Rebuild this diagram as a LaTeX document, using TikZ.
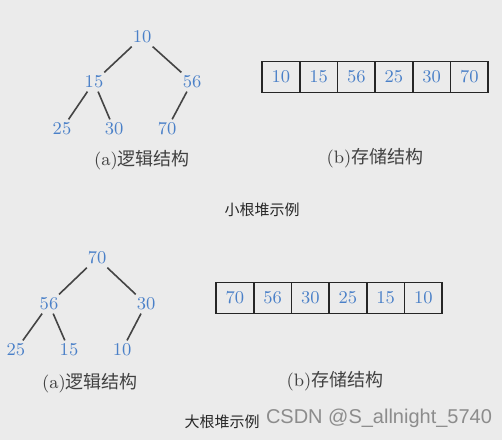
\documentclass[tikz,border=0pt]{standalone}
\usepackage{fontspec}
\newfontfamily\cjk{Noto Sans CJK SC}
\newfontfamily\wmfont{Liberation Sans}
\definecolor{numblue}{HTML}{4A80C8}
\definecolor{bggray}{HTML}{EBEBEB}
\definecolor{edgegray}{HTML}{444444}
\tikzset{
  num/.style={text=numblue,font=\fontsize{9}{9}\selectfont,inner sep=1.5pt},
  edge/.style={draw=edgegray,line width=0.8pt},
  cell/.style={draw=black!85,line width=0.8pt,minimum width=18.85pt,minimum height=15.5pt,inner sep=0pt,text=numblue,font=\fontsize{9}{9}\selectfont},
  capnode/.style={text=black!75,font=\fontsize{9}{10}\selectfont,inner sep=0pt},
  titlenode/.style={text=black!85,font=\fontsize{7.5}{8}\selectfont\cjk,inner sep=0pt}
}
\begin{document}
\begin{tikzpicture}[x=0.5pt,y=-0.5pt]
\def\cw{37.7};
\fill[bggray] (0,0) rectangle (502,440);
\useasboundingbox (0,0) rectangle (502,440);
%small root heap
\foreach\i/\v/\x/\y in {1/10/142/37,2/15/94/82,3/56/192/82,4/25/62/129,5/30/114/129,6/70/167/129} {
  \node[num] (s\i) at (\x,\y) {\v};
}
\foreach\a/\b in {1/2,1/3,2/4,2/5,3/6} {
  \draw[edge] (s\a) -- (s\b);
}
\foreach\v [count=\i from 0] in {10,15,56,25,30,70} {
  \node[cell] (sa\i) at (262+\cw*\i+0.5*\cw,77) {\v};
}
\node[capnode] (scapa) at (142,160) {(a)\cjk 逻辑结构};
\node[capnode] (scapb) at (375,158) {(b)\cjk 存储结构};
\node[titlenode] (stitle) at (262,210) {小根堆示例};
%big root heap
\foreach\i/\v/\x/\y in {1/70/97/258,2/56/49/304,3/30/146/304,4/25/16/350,5/15/69/350,6/10/122/350} {
  \node[num] (b\i) at (\x,\y) {\v};
}
\foreach\a/\b in {1/2,1/3,2/4,2/5,3/6} {
  \draw[edge] (b\a) -- (b\b);
}
\foreach\v [count=\i from 0] in {70,56,30,25,15,10} {
  \node[cell] (ba\i) at (216+\cw*\i+0.5*\cw,298) {\v};
}
\node[capnode] (bcapa) at (90,383) {(a)\cjk 逻辑结构};
\node[capnode] (bcapb) at (335,381) {(b)\cjk 存储结构};
\node[titlenode] (btitle) at (222,422) {大根堆示例};
\node[text=black!45,font=\fontsize{10}{11}\selectfont\wmfont,inner sep=0pt] (mark) at (379,418) {CSDN @S\_allnight\_5740};
\end{tikzpicture}
\end{document}
